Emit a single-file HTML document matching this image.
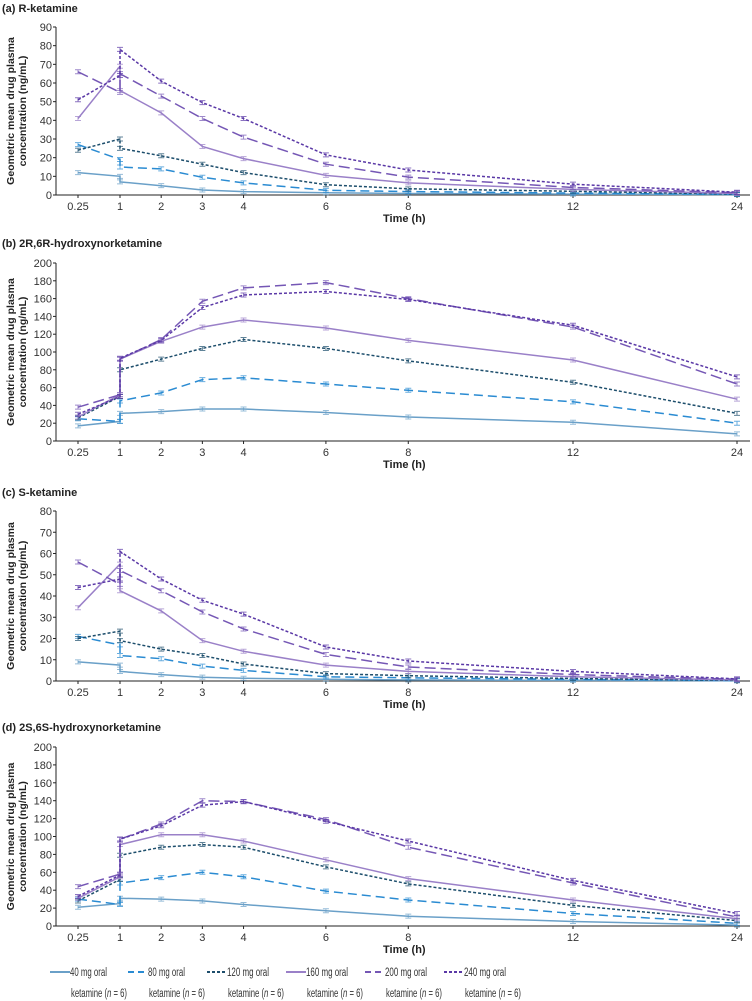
<!DOCTYPE html>
<html><head><meta charset="utf-8"><style>
body{margin:0;background:#fff}
svg{display:block;font-family:"Liberation Sans",sans-serif}
</style></head><body>
<svg id="chart" width="752" height="1001" viewBox="0 0 752 1001" xmlns="http://www.w3.org/2000/svg"></svg>
<script>
const times=[0.25,1,1,2,3,4,6,8,12,24];
const xTickLabels=["0.25","1","2","3","4","6","8","12","24"];
const xTickValues=[0.25,1,2,3,4,6,8,12,24];
const seriesNames=["40 mg oral","80 mg oral","120 mg oral","160 mg oral","200 mg oral","240 mg oral"];
const panelTitles=["(a) R-ketamine","(b) 2R,6R-hydroxynorketamine","(c) S-ketamine","(d) 2S,6S-hydroxynorketamine"];
const yMaxes=[90,200,80,200];
const yStepsArr=[10,20,10,20];
const panelA=[
[12,10,7,5,2.7,1.8,1.2,0.8,0.5,0.2],
[27,19,15,14,9.5,6.5,2.5,1.8,1,0.3],
[24,30,25,21,16.5,12,5.5,3.3,2,0.5],
[41,69,56,44,26,19.5,10.5,6.5,3,0.8],
[66,55,65,53,41,31,16.5,9.6,4,1.2],
[51,64,78,61,49.5,41,21.5,13.4,5.8,1.5]];
const panelB=[
[17,22,31,33,36,36,32,27,21,8],
[25,22,45,54,69,71,64,57,44,20],
[26,50,80,92,104,114,104,90,66,31],
[27,52,92,112,128,136,127,113,91,47],
[38,52,92,114,157,172,178,160,128,64],
[30,50,93,113,150,164,168,159,130,72]];
const panelC=[
[9,7.5,4.5,3,1.8,1.3,0.8,0.5,0.3,0.1],
[21,17,12,10.5,7,5,2,1.5,0.8,0.2],
[20,23.5,19,15,12,8,3.5,2.5,1.2,0.3],
[34.5,55,42.5,33,19,14,7.5,4.5,2,0.5],
[56,45.5,52,42.5,32.5,24.5,12.5,6.6,3,0.8],
[44,48,61,48,38,31.5,16,9.4,4.5,1]];
const panelD=[
[21,25,31,30,28,24,17,11,5,1],
[30,24,48,54,60,55,39,29,14,3],
[28,52,79,88,91,88,66,47,23,6],
[31,55,91,102,102,95,74,53,29,8],
[44,58,97,114,140,139,119,88,48,10],
[33,57,97,112,135,139,117,95,51,14]];
const allPanels=[panelA,panelB,panelC,panelD];

const colors=["#6aa0c8","#2a8bd2","#1d4e6c","#9a80c8","#7557b5","#5a38a6"];
const dashes=["","9,5","3,2","","11,5","3,2"];
const layout=[{title:8,top:27,bot:195},{title:243,top:263,bot:441},{title:492,top:511,bot:681},{title:727,top:747,bot:926}];
const NS="http://www.w3.org/2000/svg";
const svg=document.getElementById("chart");
function mk(tag,attrs,parent){const e=document.createElementNS(NS,tag);for(const k in attrs)e.setAttribute(k,attrs[k]);(parent||svg).appendChild(e);return e;}
const xd=[0.25,1,12,24], xr=[78,120,573,737];
function xs(t){for(let i=0;i<xd.length-1;i++){if(t<=xd[i+1])return xr[i]+(t-xd[i])/(xd[i+1]-xd[i])*(xr[i+1]-xr[i]);}return xr[3];}
const x0=56;
allPanels.forEach((data,p)=>{
  const L=layout[p];
  const g=mk("g",{});
  
  
  const ys=v=>L.bot-(v/yMaxes[p])*(L.bot-L.top);
  const t=mk("text",{x:2,y:L.title+4,"font-size":"11","font-weight":"bold",fill:"#222"},g);t.textContent=panelTitles[p];
  
  const ya=mk("line",{x1:x0,y1:L.top,x2:x0,y2:L.bot,stroke:"#222","stroke-width":"1"},g);
  
  for(let v=0;v<=yMaxes[p];v+=yStepsArr[p]){
    mk("line",{x1:x0-3,y1:ys(v),x2:x0,y2:ys(v),stroke:"#222"},g);
    const tl=mk("text",{x:x0-4,y:ys(v)+4,"font-size":"11","text-anchor":"end",fill:"#333"},g);tl.textContent=v;
    
  }
  const xa=mk("line",{x1:x0,y1:L.bot,x2:750,y2:L.bot,stroke:"#222","stroke-width":"1"},g);
  
  xTickValues.forEach((tv,i)=>{
    mk("line",{x1:xs(tv),y1:L.bot,x2:xs(tv),y2:L.bot+3,stroke:"#222"},g);
    const tl=mk("text",{x:xs(tv),y:L.bot+15,"font-size":"11","text-anchor":"middle",fill:"#333"},g);tl.textContent=xTickLabels[i];
    
  });
  const xt=mk("text",{x:383,y:L.bot+27,"font-size":"11","font-weight":"bold",fill:"#222"},g);xt.textContent="Time (h)";
  
  const cy=(L.top+L.bot)/2;
  const yt=mk("text",{x:0,y:0,"font-size":"10.5","font-weight":"bold","text-anchor":"middle",fill:"#222",transform:`translate(20,${cy}) rotate(-90)`},g);
  
  const s1=mk("tspan",{x:0,dy:"-6"},yt);s1.textContent="Geometric mean drug plasma";
  const s2=mk("tspan",{x:0,dy:"12"},yt);s2.textContent="concentration (ng/mL)";
  data.forEach((ser,si)=>{
    const pts=ser.map((v,i)=>xs(times[i]).toFixed(1)+","+ys(v).toFixed(1)).join(" ");
    const pl=mk("polyline",{points:pts,fill:"none",stroke:colors[si],"stroke-width":"1.5"},g);
    if(dashes[si])pl.setAttribute("stroke-dasharray",dashes[si]);
    
    ser.forEach((v,i)=>{
      const px=xs(times[i]),py=ys(v);
      const c=mk("path",{d:`M${px-3},${py-2}h6M${px},${py-2}v4M${px-3},${py+2}h6`,stroke:colors[si],"stroke-width":"1",fill:"none",opacity:"0.7"},g);
      
    });
  });
});
const legX=[50,128,207,286,365,444];
seriesNames.forEach((n,i)=>{
  const g=mk("g",{});
  
  
  const l=mk("line",{x1:legX[i],y1:972,x2:legX[i]+20,y2:972,stroke:colors[i],"stroke-width":"2"},g);
  if(dashes[i])l.setAttribute("stroke-dasharray",i==1||i==4?"6,4":"3,2");
  const t1=mk("text",{x:legX[i]+20,y:976,"font-size":"11.5",fill:"#333",textLength:"37",lengthAdjust:"spacingAndGlyphs"},g);t1.textContent=n;
  if(i>=2)t1.setAttribute("textLength","42");
  const t2=mk("text",{x:legX[i]+21,y:997,"font-size":"11.5",fill:"#333",textLength:"56",lengthAdjust:"spacingAndGlyphs"},g);
  t2.appendChild(document.createTextNode("ketamine ("));
  const it=mk("tspan",{"font-style":"italic"},t2);it.textContent="n";
  t2.appendChild(document.createTextNode(" = 6)"));
});
</script>
</body></html>
